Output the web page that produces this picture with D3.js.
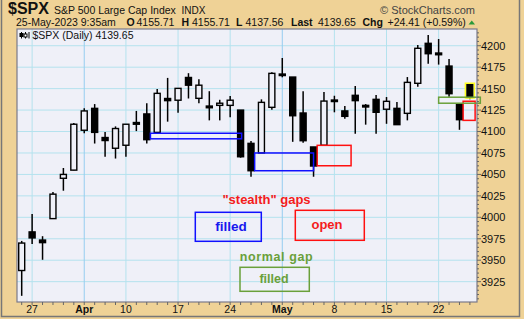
<!DOCTYPE html>
<html>
<head>
<meta charset="utf-8">
<script src="https://cdn.jsdelivr.net/npm/d3@7"></script>
<style>
  body { margin: 0; background: #fff; }
  text { font-family: "Liberation Sans", Arial, sans-serif; }
</style>
</head>
<body>
<script>
var dates = ["2023-03-24","2023-03-27","2023-03-28","2023-03-29","2023-03-30","2023-03-31",
  "2023-04-03","2023-04-04","2023-04-05","2023-04-06","2023-04-10","2023-04-11","2023-04-12",
  "2023-04-13","2023-04-14","2023-04-17","2023-04-18","2023-04-19","2023-04-20","2023-04-21",
  "2023-04-24","2023-04-25","2023-04-26","2023-04-27","2023-04-28","2023-05-01","2023-05-02",
  "2023-05-03","2023-05-04","2023-05-05","2023-05-08","2023-05-09","2023-05-10","2023-05-11",
  "2023-05-12","2023-05-15","2023-05-16","2023-05-17","2023-05-18","2023-05-19","2023-05-22",
  "2023-05-23","2023-05-24","2023-05-25"];
var opens  = [3938,3983,3973.5,3998.5,4045.5,4055,4101.5,4127,4093,4080.5,4084,4110.5,4120.5,
  4099,4138.5,4136.5,4163,4138.7,4129.7,4130.5,4130.5,4125,4086.2,4075,4128.2,4167,4163.5,
  4121.6,4082,4084,4136.7,4124,4142.2,4130.5,4137.5,4126,4127,4121.2,4156.2,4202.8,4191.5,
  4176.3,4132,4155.7];
var highs  = [3972.5,4004,3978,4029.5,4057.5,4110,4127,4132,4099.5,4106,4108.5,4124,4133,
  4149.5,4162.5,4150.5,4168,4161,4147,4137,4141.5,4125,4089,4137.5,4169,4185.7,4163.5,
  4147,4082,4146,4141.7,4129.7,4153,4132,4142.5,4140.2,4134.4,4163.5,4200.8,4212.5,4207.8,
  4184.5,4132,4155.7];
var lows   = [3908.5,3969,3950.5,3998.5,4031,4055,4098,4086,4070.5,4068.5,4070.5,4100.5,4086,
  4099,4111.5,4122,4138.5,4133,4113,4113,4116.5,4069.5,4047.3,4075,4125.4,4163.2,4088,
  4087,4047.3,4084,4122.4,4115,4097.4,4108,4097.5,4109,4108,4113,4152.2,4179,4178,
  4140.6,4102,4137.6];
var closes = [3970,3976,3970.5,4027,4050,4108.5,4124,4099,4089.5,4103.5,4108.5,4108.5,4090.5,
  4144.5,4136,4150.3,4154,4154,4127.7,4133,4136.5,4070.6,4054.3,4134,4167.8,4165.5,4118.4,
  4089.3,4059.8,4135.5,4135.7,4117.7,4136,4128.6,4122.4,4135.2,4108,4157.3,4197,4190.7,4189.5,
  4144.1,4113.8,4139.65];

var weekDates  = ["2023-03-27","2023-04-03","2023-04-10","2023-04-17","2023-04-24",
  "2023-05-01","2023-05-08","2023-05-15","2023-05-22"];
var weekLabels = ["27","Apr","10","17","24","May","8","15","22"];
var monthDates = ["2023-04-03","2023-05-01"];
var priceTicks = [3925,3950,3975,4000,4025,4050,4075,4100,4125,4150,4175,4200];

// gaps: start/end as trading-day index, lo/hi price
var gapStart = [12.35, 22.35, 28.35, 42.35, 40];
var gapEnd   = [21.1, 28, 31.6, 43.5, 44];
var gapLo    = [4091.5, 4054.3, 4060.1, 4113, 4133];
var gapHi    = [4098, 4075, 4083.9, 4135.3, 4140];
var gapColor = ["#1010ff","#1010ff","#ff1010","#ff1010","#6aa03a"];

var W = 524, H = 319;
var pL = 17, pR = 477, pT = 29, pB = 302;
var tan = "#efd296", plotBg = "#eff0f8";

var svg = d3.select("body").append("svg")
    .attr("width", W).attr("height", H);

svg.append("rect").attr("width", W).attr("height", H).attr("fill", tan);
svg.append("rect").attr("x", 1.5).attr("y", -2).attr("width", 518).attr("height", 318.5)
    .attr("fill", "none").attr("stroke", "#777").attr("stroke-width", 1.5);

var x = d3.scalePoint().domain(dates).range([21.7, 469.9]);
var xi = d3.scaleLinear().domain([0, dates.length - 1]).range([21.7, 469.9]);
var y = d3.scaleLinear().domain([3901.3, 4219.5]).range([pB, pT]);

svg.append("rect").attr("x", pL).attr("y", pT)
    .attr("width", pR - pL).attr("height", pB - pT).attr("fill", plotBg);

// grid
svg.append("g").selectAll("line").data(priceTicks).enter().append("line")
    .attr("x1", pL).attr("x2", pR)
    .attr("y1", function(d){ return y(d); }).attr("y2", function(d){ return y(d); })
    .attr("stroke", "#b4e2ee").attr("stroke-width", 1);
svg.append("g").selectAll("line").data(weekDates).enter().append("line")
    .attr("x1", function(d){ return x(d); }).attr("x2", function(d){ return x(d); })
    .attr("y1", pT).attr("y2", pB)
    .attr("stroke", function(d){ return monthDates.indexOf(d) >= 0 ? "#96cdf0" : "#b4e2ee"; })
    .attr("stroke-width", 1);

// candles
var candles = dates.map(function(d, i){
  return {date: d, o: opens[i], h: highs[i], l: lows[i], c: closes[i]};
});
var bw = 7;
var cg = svg.append("g").selectAll("g").data(candles).enter().append("g");
cg.append("line")
    .attr("x1", function(d){ return x(d.date); }).attr("x2", function(d){ return x(d.date); })
    .attr("y1", function(d){ return y(d.h); }).attr("y2", function(d){ return y(d.l); })
    .attr("stroke", "#000").attr("stroke-width", 1.5);
cg.append("rect")
    .attr("x", function(d){ return x(d.date) - bw / 2 + 0.5; })
    .attr("y", function(d){ return y(Math.max(d.o, d.c)); })
    .attr("width", bw - 1)
    .attr("height", function(d){ return Math.max(1.5, Math.abs(y(d.o) - y(d.c))); })
    .attr("fill", function(d){ return d.c > d.o ? plotBg : "#000"; })
    .attr("stroke", "#000").attr("stroke-width", 1.4);

// last candle highlight
var last = candles[candles.length - 1];
svg.append("rect")
    .attr("x", x(last.date) - bw / 2 - 1).attr("y", y(last.o) - 0.5)
    .attr("width", bw + 2).attr("height", y(last.c) - y(last.o) + 1)
    .attr("fill", "none").attr("stroke", "#ffff20").attr("stroke-width", 1.5);

// gap boxes
svg.append("g").selectAll("rect").data(gapStart).enter().append("rect")
    .attr("x", function(d){ return xi(d); })
    .attr("width", function(d, i){ return xi(gapEnd[i]) - xi(d); })
    .attr("y", function(d, i){ return y(gapHi[i]); })
    .attr("height", function(d, i){ return y(gapLo[i]) - y(gapHi[i]); })
    .attr("fill", "none").attr("stroke", function(d, i){ return gapColor[i]; })
    .attr("stroke-width", 1.5);

// plot frame
svg.append("rect").attr("x", pL).attr("y", pT)
    .attr("width", pR - pL).attr("height", pB - pT)
    .attr("fill", "none").attr("stroke", "#7a7a8a").attr("stroke-width", 1.2);

// y axis on the right
var yAxis = svg.append("g");
yAxis.selectAll("line").data(d3.range(3905, 4220, 5)).enter().append("line")
    .attr("x1", pR).attr("x2", function(d){ return d % 25 === 0 ? pR + 4 : pR + 2; })
    .attr("y1", function(d){ return y(d); }).attr("y2", function(d){ return y(d); })
    .attr("stroke", "#666").attr("stroke-width", 1);
yAxis.selectAll("text").data(priceTicks).enter().append("text")
    .attr("x", pR + 4).attr("y", function(d){ return y(d); }).attr("dy", "0.36em")
    .attr("font-size", "11px").attr("fill", "#111")
    .text(function(d){ return d; });

// x axis
var xAxis = svg.append("g");
xAxis.selectAll("line").data(dates).enter().append("line")
    .attr("x1", function(d){ return x(d); }).attr("x2", function(d){ return x(d); })
    .attr("y1", pB).attr("y2", pB + 3)
    .attr("stroke", "#666").attr("stroke-width", 1);
xAxis.selectAll("text").data(weekDates).enter().append("text")
    .attr("x", function(d){ return x(d); }).attr("y", 312.5)
    .attr("text-anchor", "middle").attr("font-size", "10.5px").attr("fill", "#111")
    .attr("font-weight", function(d){ return monthDates.indexOf(d) >= 0 ? "bold" : "normal"; })
    .text(function(d, i){ return weekLabels[i]; });

// header
svg.append("text").attr("x", 8).attr("y", 14).attr("font-size", "16px")
    .attr("font-weight", "bold").attr("fill", "#111").text("$SPX");
svg.append("text").attr("x", 54).attr("y", 13.5).attr("font-size", "10.5px")
    .attr("fill", "#111").text("S&P 500 Large Cap Index");
svg.append("text").attr("x", 181.5).attr("y", 13.5).attr("font-size", "10px")
    .attr("fill", "#111").text("INDX");
svg.append("text").attr("x", 475).attr("y", 13.5).attr("font-size", "11px")
    .attr("text-anchor", "end").attr("fill", "#444").text("\u00a9 StockCharts.com");

var info = [
  {x: 16, t: "25-May-2023 9:35am", b: false},
  {x: 126.5, t: "O", b: true}, {x: 136.5, t: "4155.71", b: false},
  {x: 181.5, t: "H", b: true}, {x: 192, t: "4155.71", b: false},
  {x: 236, t: "L", b: true}, {x: 245.5, t: "4137.56", b: false},
  {x: 291, t: "Last", b: true}, {x: 318, t: "4139.65", b: false},
  {x: 362.5, t: "Chg", b: true}, {x: 387.5, t: "+24.41 (+0.59%)", b: false}
];
svg.append("g").selectAll("text").data(info).enter().append("text")
    .attr("x", function(d){ return d.x; }).attr("y", 25.5)
    .attr("font-size", "10.5px").attr("fill", "#111")
    .attr("font-weight", function(d){ return d.b ? "bold" : "normal"; })
    .text(function(d){ return d.t; });
svg.append("path").attr("d", "M468.5,24.5 L475,24.5 L471.75,20.5 Z").attr("fill", "#2a9a3a");

// legend inside plot
var icon = svg.append("g").attr("stroke", "#000").attr("stroke-width", 1);
icon.append("line").attr("x1", 21.5).attr("x2", 21.5).attr("y1", 32).attr("y2", 38.5);
icon.append("rect").attr("x", 20).attr("y", 33.5).attr("width", 3).attr("height", 3).attr("fill", "#000");
icon.append("line").attr("x1", 25.5).attr("x2", 25.5).attr("y1", 32).attr("y2", 38.5);
icon.append("rect").attr("x", 24).attr("y", 34).attr("width", 3).attr("height", 3).attr("fill", "#fff");
icon.append("line").attr("x1", 29).attr("x2", 29).attr("y1", 32).attr("y2", 38.5);
svg.append("text").attr("x", 32.5).attr("y", 38.5)
    .attr("font-family", "DejaVu Sans").attr("font-size", "10.5px").attr("fill", "#111")
    .text("$SPX (Daily) 4139.65");

// annotations
svg.append("text").attr("x", 266.5).attr("y", 204).attr("text-anchor", "middle")
    .attr("font-size", "13px").attr("font-weight", "bold").attr("fill", "#f41c1c")
    .text("\"stealth\" gaps");
svg.append("rect").attr("x", 195.3).attr("y", 212.3).attr("width", 66).attr("height", 29)
    .attr("fill", "none").attr("stroke", "#1010ff").attr("stroke-width", 1.5);
svg.append("text").attr("x", 231).attr("y", 231).attr("text-anchor", "middle")
    .attr("font-size", "13.5px").attr("font-weight", "bold").attr("fill", "#1818ee")
    .text("filled");
svg.append("rect").attr("x", 295.3).attr("y", 210.3).attr("width", 69).attr("height", 30)
    .attr("fill", "none").attr("stroke", "#ff1010").attr("stroke-width", 1.5);
svg.append("text").attr("x", 327).attr("y", 229).attr("text-anchor", "middle")
    .attr("font-size", "13px").attr("font-weight", "bold").attr("fill", "#f41c1c")
    .text("open");
svg.append("text").attr("x", 276.5).attr("y", 261).attr("text-anchor", "middle")
    .attr("font-size", "12.5px").attr("font-weight", "bold").attr("fill", "#6aa03a")
    .attr("letter-spacing", "0.6px")
    .text("normal gap");
svg.append("rect").attr("x", 240).attr("y", 267.3).attr("width", 69.3).attr("height", 24)
    .attr("fill", "none").attr("stroke", "#6aa03a").attr("stroke-width", 1.5);
svg.append("text").attr("x", 274).attr("y", 283).attr("text-anchor", "middle")
    .attr("font-size", "12.5px").attr("font-weight", "bold").attr("fill", "#6aa03a")
    .text("filled");
</script>
</body>
</html>
